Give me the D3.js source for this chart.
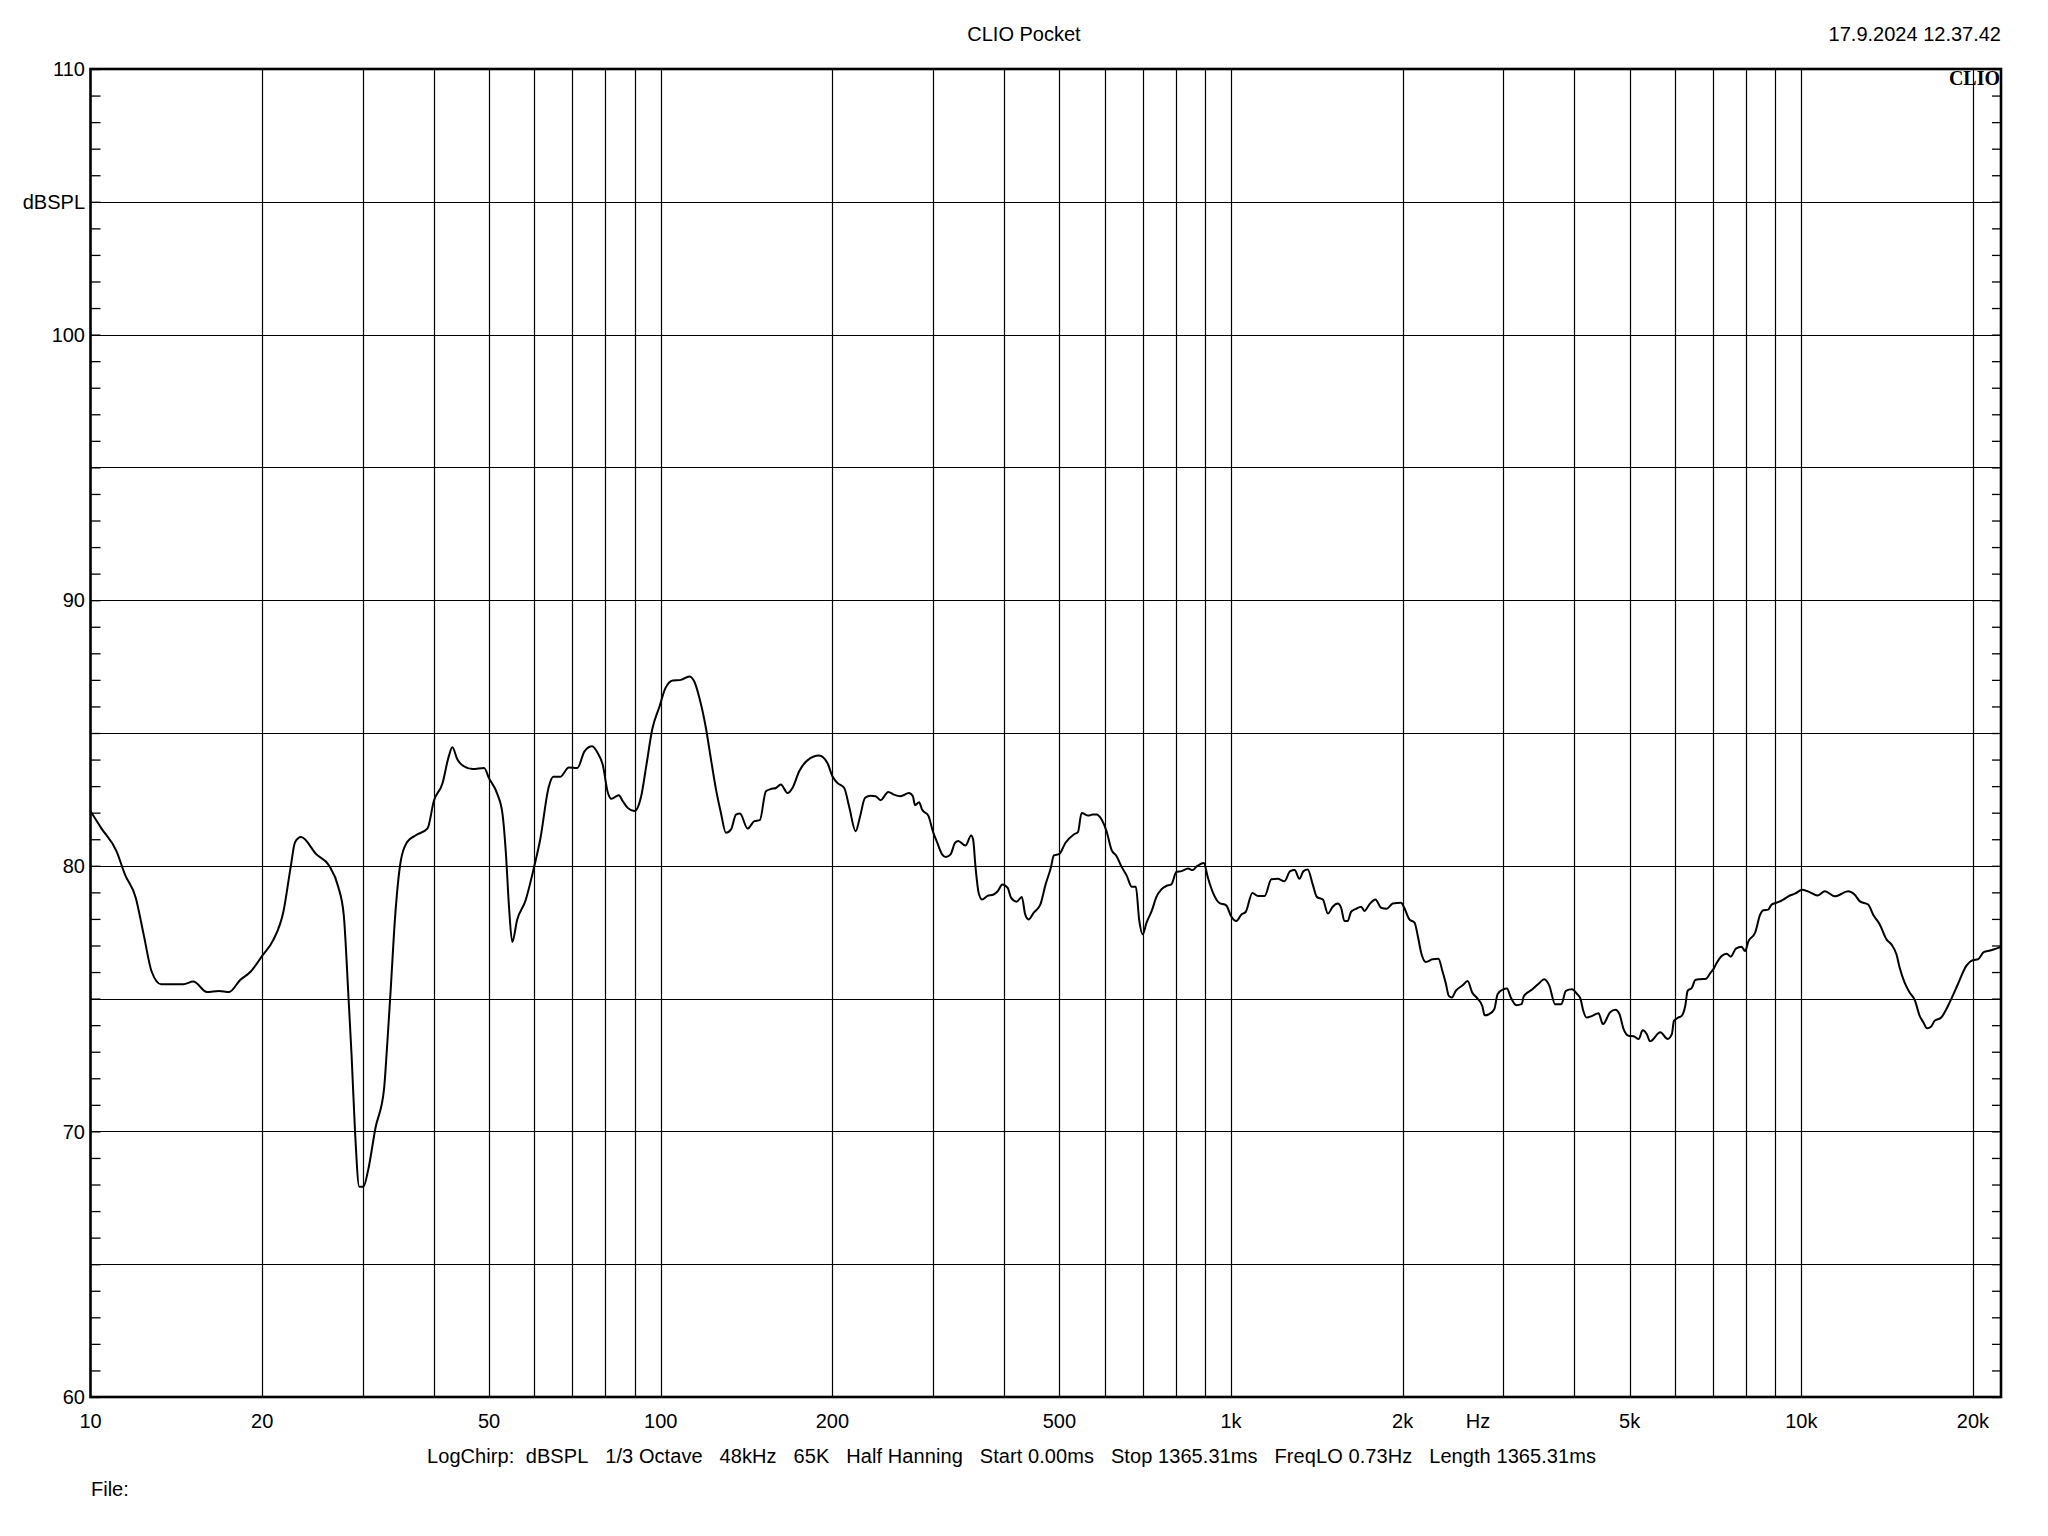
<!DOCTYPE html>
<html><head><meta charset="utf-8">
<script src="https://cdn.jsdelivr.net/npm/d3@7/dist/d3.min.js"></script>
<style>
body{margin:0;background:#fff}
svg text{font-family:"Liberation Sans",Arial,sans-serif;fill:#000}
</style>
</head><body>
<svg id="chart" width="2048" height="1536"></svg>
<script>
const freqHz = [10,10.45,11.1,11.5,12.0,12.4,12.8,13.3,14.55,15.15,16.0,16.8,17.5,18.3,19.1,20,20.9,21.8,22.45,22.84,23.4,24.9,26.2,27.2,27.8,28.35,28.7,29.1,29.6,30.1,30.7,31.6,32.7,33.1,33.6,34.2,35.0,35.9,37.2,39.0,40,41.4,42.5,43.1,44.0,45.2,46.8,49.0,50.0,51.7,52.8,53.5,54.2,54.9,56.0,57.9,60,61.5,63.6,64.8,66.6,69.0,71.4,
73.5,75.8,77.5,79.1,80.8,81.9,84.4,85.8,87.5,89.9,92.4,94.3,96.6,99.5,101.9,105.0,108.5,112.2,114.5,116.9,120.0,122.5,125.0,127.5,130.1,132.8,135.5,137.7,142.0,145.9,149.2,152.9,156.0,159.2,162.4,166.8,170.2,174.9,180.8,189.5,196.0,200,204.1,209.8,213.9,219.7,223.3,228.2,233.4,238.1,243.0,250.6,256.3,263.3,272.4,276.8,279.1,283.8,287.2,294.6,300,305.5,311.5,316.1,322.3,328.1,332.3,342.2,350.2,353.0,356.3,361.0,366.1,373.5,383.4,390.1,397.2,405.9,411.3,420.9,429.7,435.6,441.6,450.7,463.2,473.0,483,489,500,512.3,530,539,547,562,572,
581,593,605,617,630,643,656,670,681,690,700,711,726,740,755,770,786,802,819,841,856,872,896,911,930,953,981,1000,1022,1043,1061,1090,1115,1145,1177,1208,1241,1270,1293,1318,1340,1363,1391,1414,1449,1479,1508,1539,1560,1581,1602,1624,1657,1691,1714,1749,1792,1833,1875,1921,1987,2013,2055,2098,2126,2155,2197,2256,2311,2348,2379,2410,2439,2478,2548,2600,2648,2706,2758,2785,2834,2895,2934,3000,3047,3095,3165,3233,3263,3378,3470,3542,3614,3702,3796,3865,3960,4050,4100,
4147,4200,4300,4410,4490,4620,4720,4800,4880,4980,5080,5190,5270,5360,5430,5660,5830,5930,5980,6090,6170,6260,6320,6430,6520,6650,6810,6920,7010,7110,7250,7400,7520,7680,7860,7970,8080,8300,8470,8580,8750,8870,9110,9300,9490,9750,10050,10360,10670,11000,11450,12080,12410,12670,13100,13370,13730,14110,14390,14690,14880,15180,15490,15810,16130,16350,16620,16900,17130,17600,17960,18320,18820,19470,20000,20410,20890,21440,21970,22400];
const splDb = [82.06,81.41,80.56,79.66,78.81,77.39,76.02,75.54,75.54,75.64,75.25,75.29,75.25,75.70,76.02,76.61,77.19,78.29,79.98,80.89,81.08,80.43,80.01,79.20,78.16,74.99,72.85,69.99,67.92,67.92,68.57,70.13,71.55,73.11,75.31,78.04,80.18,80.89,81.15,81.41,82.44,83.09,84.13,84.46,84.00,83.74,83.64,83.68,83.29,82.70,81.93,80.50,78.42,77.13,77.97,78.68,79.98,81.02,82.96,83.35,83.35,83.70,83.68,
84.31,84.50,84.25,83.81,82.74,82.52,82.66,82.43,82.18,82.06,82.62,83.75,85.13,86.00,86.69,86.98,87.00,87.13,86.94,86.32,85.19,84.00,82.87,81.99,81.24,81.37,81.93,81.97,81.40,81.68,81.72,82.81,82.89,82.93,83.06,82.74,82.93,83.56,83.97,84.15,83.87,83.37,83.12,82.93,82.24,81.30,81.80,82.56,82.64,82.62,82.47,82.78,82.68,82.62,82.74,82.62,82.28,82.39,82.12,81.89,81.30,80.86,80.43,80.33,80.43,80.86,80.93,80.76,81.14,80.99,79.99,78.98,78.73,78.86,78.92,79.05,79.30,79.17,78.80,78.65,78.83,78.17,77.98,78.23,78.55,79.30,79.92,80.39,80.45,80.86,81.18,81.27,81.99,81.89,81.93,
81.93,81.74,81.30,80.61,80.36,79.96,79.64,79.21,79.21,77.98,77.42,77.86,78.30,78.83,79.11,79.24,79.30,79.77,79.80,79.90,79.84,79.99,80.11,79.55,78.98,78.61,78.51,78.11,77.92,78.17,78.26,78.98,78.86,78.86,79.49,79.51,79.42,79.80,79.84,79.51,79.80,79.86,79.30,78.83,78.73,78.20,78.46,78.58,78.42,77.92,77.92,78.27,78.38,78.46,78.30,78.55,78.73,78.42,78.38,78.58,78.61,78.42,77.98,77.86,77.36,76.73,76.38,76.48,76.50,76.04,75.60,75.10,75.04,75.29,75.50,75.66,75.23,75.00,74.72,74.37,74.41,74.60,75.16,75.35,75.38,75.04,74.75,74.79,75.10,75.35,75.58,75.73,75.50,74.79,74.79,75.29,75.35,75.16,75.00,
74.54,74.29,74.35,74.45,74.04,74.48,74.58,74.41,73.85,73.60,73.58,73.48,73.81,73.66,73.39,73.73,73.48,73.66,74.16,74.29,74.35,74.73,75.29,75.41,75.70,75.73,75.75,75.95,76.10,76.35,76.60,76.69,76.58,76.88,76.95,76.79,77.16,77.48,78.16,78.33,78.35,78.54,78.63,78.73,78.85,78.95,79.10,79.00,78.88,79.04,78.85,79.04,78.91,78.66,78.54,78.16,77.79,77.23,77.04,76.66,76.16,75.60,75.23,74.95,74.35,74.13,73.88,73.95,74.16,74.29,74.60,74.98,75.54,76.23,76.45,76.48,76.75,76.81,76.88,76.95];

const xTickValues = [10,20,50,100,200,500,1000,2000,5000,10000,20000];
const xTickLabels = ["10","20","50","100","200","500","1k","2k","5k","10k","20k"];
const yTickValues = [60,70,80,90,100,110];
const yTickLabels = ["60","70","80","90","100","110"];
const yGridValues = [65,70,75,80,85,90,95,100,105];
const xDomain = [10, 22400];
const yDomain = [60, 110];
const titleText = "CLIO Pocket";
const dateText = "17.9.2024 12.37.42";
const unitY = "dBSPL";
const unitX = "Hz";
const logoText = "CLIO";
const infoText = "LogChirp:  dBSPL   1/3 Octave   48kHz   65K   Half Hanning   Start 0.00ms   Stop 1365.31ms   FreqLO 0.73Hz   Length 1365.31ms";
const fileText = "File:";

const L = 90.5, R = 2001, T = 69, B = 1397;
const FS = 20;
const svg = d3.select("#chart");
const x = d3.scaleLog().domain(xDomain).range([L, R]);
const y = d3.scaleLinear().domain(yDomain).range([B, T]);

svg.append("rect").attr("width",2048).attr("height",1536).attr("fill","#fff");

// vertical grid
const xGrid = x.ticks().filter(v => v > 10 && v < xDomain[1]);
svg.append("g").selectAll("line").data(xGrid).join("line")
  .attr("x1", d => Math.round(x(d)) + 0.5).attr("x2", d => Math.round(x(d)) + 0.5)
  .attr("y1", T).attr("y2", B).attr("stroke","#000").attr("stroke-width",1.2);
// horizontal grid
svg.append("g").selectAll("line").data(yGridValues).join("line")
  .attr("x1", L).attr("x2", R)
  .attr("y1", d => Math.round(y(d)) + 0.5).attr("y2", d => Math.round(y(d)) + 0.5)
  .attr("stroke","#000").attr("stroke-width",1.2);

// minor ticks on left and right
const minor = d3.range(60, 111, 1);
svg.append("g").attr("transform",`translate(${L},0)`)
  .call(d3.axisLeft(y).tickValues(minor).tickSize(-10).tickFormat(""))
  .call(g => g.select(".domain").remove())
  .call(g => g.selectAll("line").attr("stroke","#000").attr("stroke-width",1.3));
svg.append("g").attr("transform",`translate(${R},0)`)
  .call(d3.axisRight(y).tickValues(minor).tickSize(-9).tickFormat(""))
  .call(g => g.select(".domain").remove())
  .call(g => g.selectAll("line").attr("stroke","#000").attr("stroke-width",1.3));

// frame
svg.append("rect").attr("x",L).attr("y",T).attr("width",R-L).attr("height",B-T)
  .attr("fill","none").attr("stroke","#000").attr("stroke-width",2.6);

// curve
const line = d3.line().x((d,i) => x(freqHz[i])).y(d => y(d)).curve(d3.curveMonotoneX);
svg.append("path").datum(splDb).attr("d", line)
  .attr("fill","none").attr("stroke","#000").attr("stroke-width",2).attr("stroke-linejoin","round");

// y labels
svg.append("g").selectAll("text").data(yTickValues).join("text")
  .attr("x", 85).attr("y", d => y(d)).attr("dy","0.36em")
  .attr("text-anchor","end").attr("font-size",FS)
  .text((d,i) => yTickLabels[i]);
svg.append("text").attr("x",85).attr("y",y(105)).attr("dy","0.36em")
  .attr("text-anchor","end").attr("font-size",FS).text(unitY);

// x labels
svg.append("g").selectAll("text").data(xTickValues).join("text")
  .attr("x", d => x(d)).attr("y", 1428)
  .attr("text-anchor","middle").attr("font-size",FS)
  .text((d,i) => xTickLabels[i]);
svg.append("text").attr("x",1478).attr("y",1428).attr("text-anchor","middle").attr("font-size",FS).text(unitX);

// title, date
svg.append("text").attr("x",1024).attr("y",41).attr("text-anchor","middle").attr("font-size",FS).text(titleText);
svg.append("text").attr("x",2001).attr("y",41).attr("text-anchor","end").attr("font-size",FS).text(dateText);

// logo
svg.append("text").attr("x",2000).attr("y",85).attr("text-anchor","end")
  .attr("font-size",20).attr("font-weight","bold")
  .style("font-family","'Liberation Serif','Times New Roman',serif").text(logoText);

// info line (non-breaking spaces keep the gaps)
svg.append("text").attr("x",427).attr("y",1463).attr("font-size",FS)
  .attr("textLength",1169).attr("lengthAdjust","spacing")
  .text(infoText.replace(/ /g, "\u00A0"));
svg.append("text").attr("x",91).attr("y",1496).attr("font-size",FS).text(fileText);
</script>
</body></html>
